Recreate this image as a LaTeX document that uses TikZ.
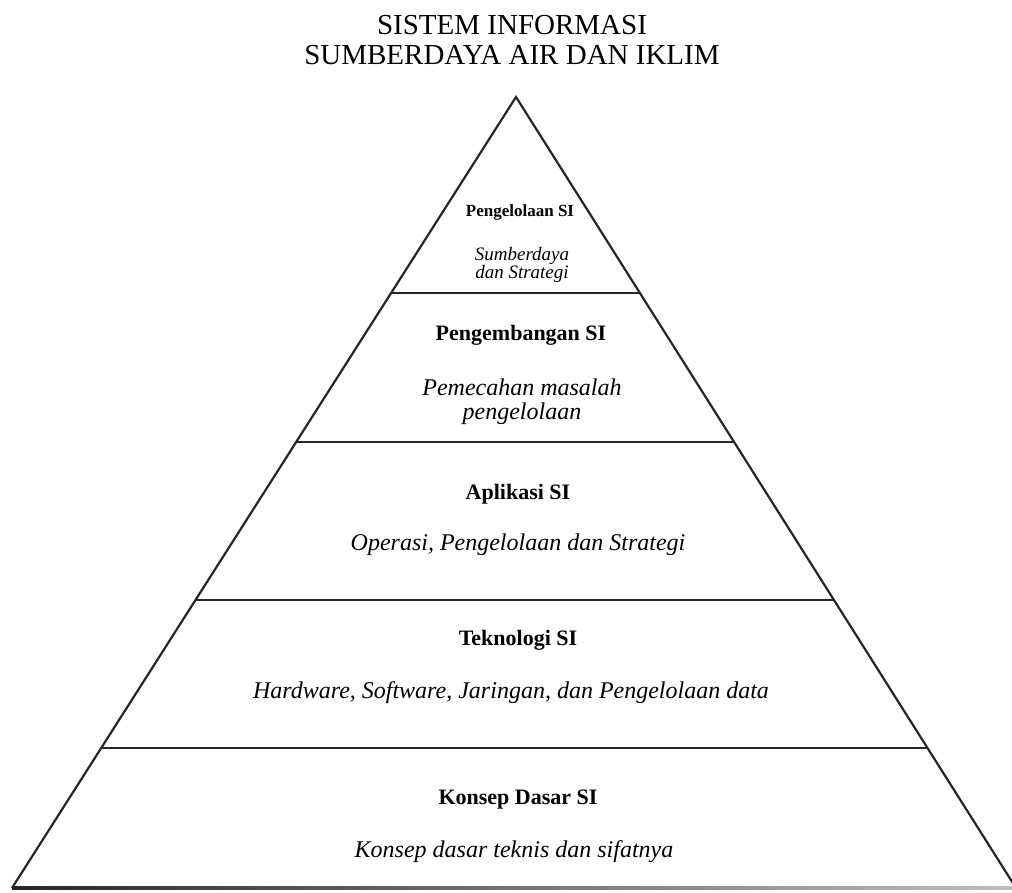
\documentclass[tikz,border=0pt]{standalone}
\usepackage{fontspec}
\setmainfont{Liberation Serif}
\usetikzlibrary{calc}

\tikzset{
  judul/.style={align=center, font=\fontsize{29}{30}\selectfont},
  kepala/.style={font=\bfseries\fontsize{22}{24}\selectfont},
  uraian/.style={align=center, font=\itshape\fontsize{24}{24}\selectfont},
  sisi/.style={line width=2.2pt, line join=miter, black!85},
}

\begin{document}
\begin{tikzpicture}[x=1pt, y=-1pt]
\useasboundingbox (0,0) rectangle (1012,892);
% piramida
\coordinate (puncak) at (516,97);
\coordinate (kiri) at (12,888);
\coordinate (kanan) at (1016,888);
\draw[sisi] (kiri) -- (puncak) -- (kanan);
\shade[left color=black!85, right color=black!25]
  ($(kiri)+(0,-1.2)$) rectangle ($(kanan)+(0,1.2)$);
% garis lapisan
\foreach \t/\n in {0.2478/a, 0.4362/b, 0.6359/c, 0.8230/d}{
  \coordinate (k-\n) at ($(puncak)!\t!(kiri)$);
  \coordinate (r-\n) at ($(puncak)!\t!(kanan)$);
  \draw[sisi] (k-\n) -- (r-\n);
}
% judul
\node[judul] (judul) at (512,40) {SISTEM INFORMASI\\SUMBERDAYA AIR DAN IKLIM};
% lapisan 1
\node[kepala, font=\bfseries\fontsize{17}{19}\selectfont] (kelola) at (520,212) {Pengelolaan SI};
\node[uraian, font=\itshape\fontsize{19}{17}\selectfont] (kelola-isi) at (522,265) {Sumberdaya\\dan Strategi};
% lapisan 2
\node[kepala] (kembang) at (521,335) {Pengembangan SI};
\node[uraian] (kembang-isi) at (522,402) {Pemecahan masalah\\pengelolaan};
% lapisan 3
\node[kepala] (aplikasi) at (518,494) {Aplikasi SI};
\node[uraian] (aplikasi-isi) at (518,545) {Operasi, Pengelolaan dan Strategi};
% lapisan 4
\node[kepala] (teknologi) at (518,640) {Teknologi SI};
\node[uraian] (teknologi-isi) at (511,693) {Hardware, Software, Jaringan, dan Pengelolaan data};
% lapisan 5
\node[kepala] (konsep) at (518,800) {Konsep Dasar SI};
\node[uraian] (konsep-isi) at (514,852) {Konsep dasar teknis dan sifatnya};
\end{tikzpicture}
\end{document}
